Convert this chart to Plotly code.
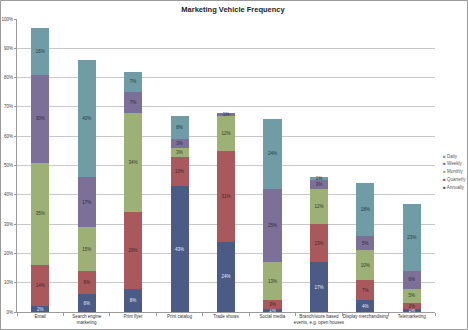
import plotly.graph_objects as go

categories = ["Email", "Search engine<br>marketing", "Print flyer", "Print catalog", "Trade shows",
              "Social media", "Branch/store based<br>events, e.g. open houses",
              "Display merchandising", "Telemarketing"]
annually = [2, 6, 8, 43, 24, 1, 17, 4, 1]
quarterly = [14, 8, 26, 10, 31, 3, 13, 7, 2]
monthly = [35, 15, 34, 3, 12, 13, 12, 10, 5]
weekly = [30, 17, 7, 3, 1, 25, 3, 5, 6]
daily = [16, 40, 7, 8, 0, 24, 1, 18, 23]

series = [
    ("Annually", annually, "#4b5b86", "#e8ecf4"),
    ("Quarterly", quarterly, "#a9595b", "#3a2a2a"),
    ("Monthly", monthly, "#9db075", "#333a28"),
    ("Weekly", weekly, "#7d7098", "#2e2a3a"),
    ("Daily", daily, "#6f9ca5", "#263a3e"),
]

fig = go.Figure()
for name, vals, color, tcolor in series:
    texts = [f"{v}%" if v > 0 else "" for v in vals]
    fig.add_trace(go.Bar(
        name=name, x=categories, y=[v / 100 for v in vals],
        marker=dict(color=color, line=dict(width=0)),
        text=texts, textposition="inside", insidetextanchor="middle",
        textangle=0, constraintext="none",
        textfont=dict(size=4.5, color=tcolor, family="Liberation Sans"),
        hoverinfo="skip", showlegend=False,
    ))

W, H = 468, 330
ml, mr, mt, mb = 17, 33, 19, 18
pw, ph = W - ml - mr, H - mt - mb

# manual legend (small squares, like the reference)
annotations = []
legend_y0 = 156
for i, (name, vals, color, tcolor) in enumerate(reversed(series)):
    ypx = legend_y0 + i * 7.8
    annotations.append(dict(
        xref="paper", yref="paper", x=(441 - ml) / pw, y=1 - (ypx - mt) / ph,
        xanchor="left", yanchor="middle", showarrow=False,
        text=f"<span style='color:{color}'>■</span> {name}",
        font=dict(size=4.5, color="#555555", family="Liberation Sans"),
    ))

fig.update_layout(
    width=W, height=H, barmode="stack", bargap=0.61,
    margin=dict(l=ml, r=mr, t=mt, b=mb, pad=0, autoexpand=False),
    paper_bgcolor="white", plot_bgcolor="white",
    font=dict(family="Liberation Sans", size=5, color="#333333"),
    title=dict(text="<b>Marketing Vehicle Frequency</b>", x=233 / W, xanchor="center",
               y=1 - 9 / H, yanchor="middle",
               font=dict(size=7.5, color="#222222", family="Liberation Sans")),
    showlegend=False,
    annotations=annotations,
    uniformtext=dict(minsize=4, mode="show"),
    shapes=[dict(type="rect", xref="paper", yref="paper",
                 x0=-(ml - 0.5) / pw, x1=1 + (mr - 0.5) / pw,
                 y0=-(mb - 0.5) / ph, y1=1 + (mt - 0.5) / ph,
                 line=dict(color="#9a9a9a", width=1), layer="below")],
)
fig.update_yaxes(range=[0, 1], dtick=0.1, tickformat=".0%", showgrid=True,
                 gridcolor="#c8c8c8", gridwidth=1, showline=True, linecolor="#9a9a9a",
                 ticks="outside", ticklen=2, tickcolor="#9a9a9a",
                 tickfont=dict(size=4.5, color="#444444"), zeroline=False)
fig.update_xaxes(showline=True, linecolor="#9a9a9a", ticks="outside", ticklen=3,
                 tickcolor="#9a9a9a", tickson="boundaries",
                 tickfont=dict(size=4.5, color="#333333"), tickangle=0)

fig.write_html("out.html")
